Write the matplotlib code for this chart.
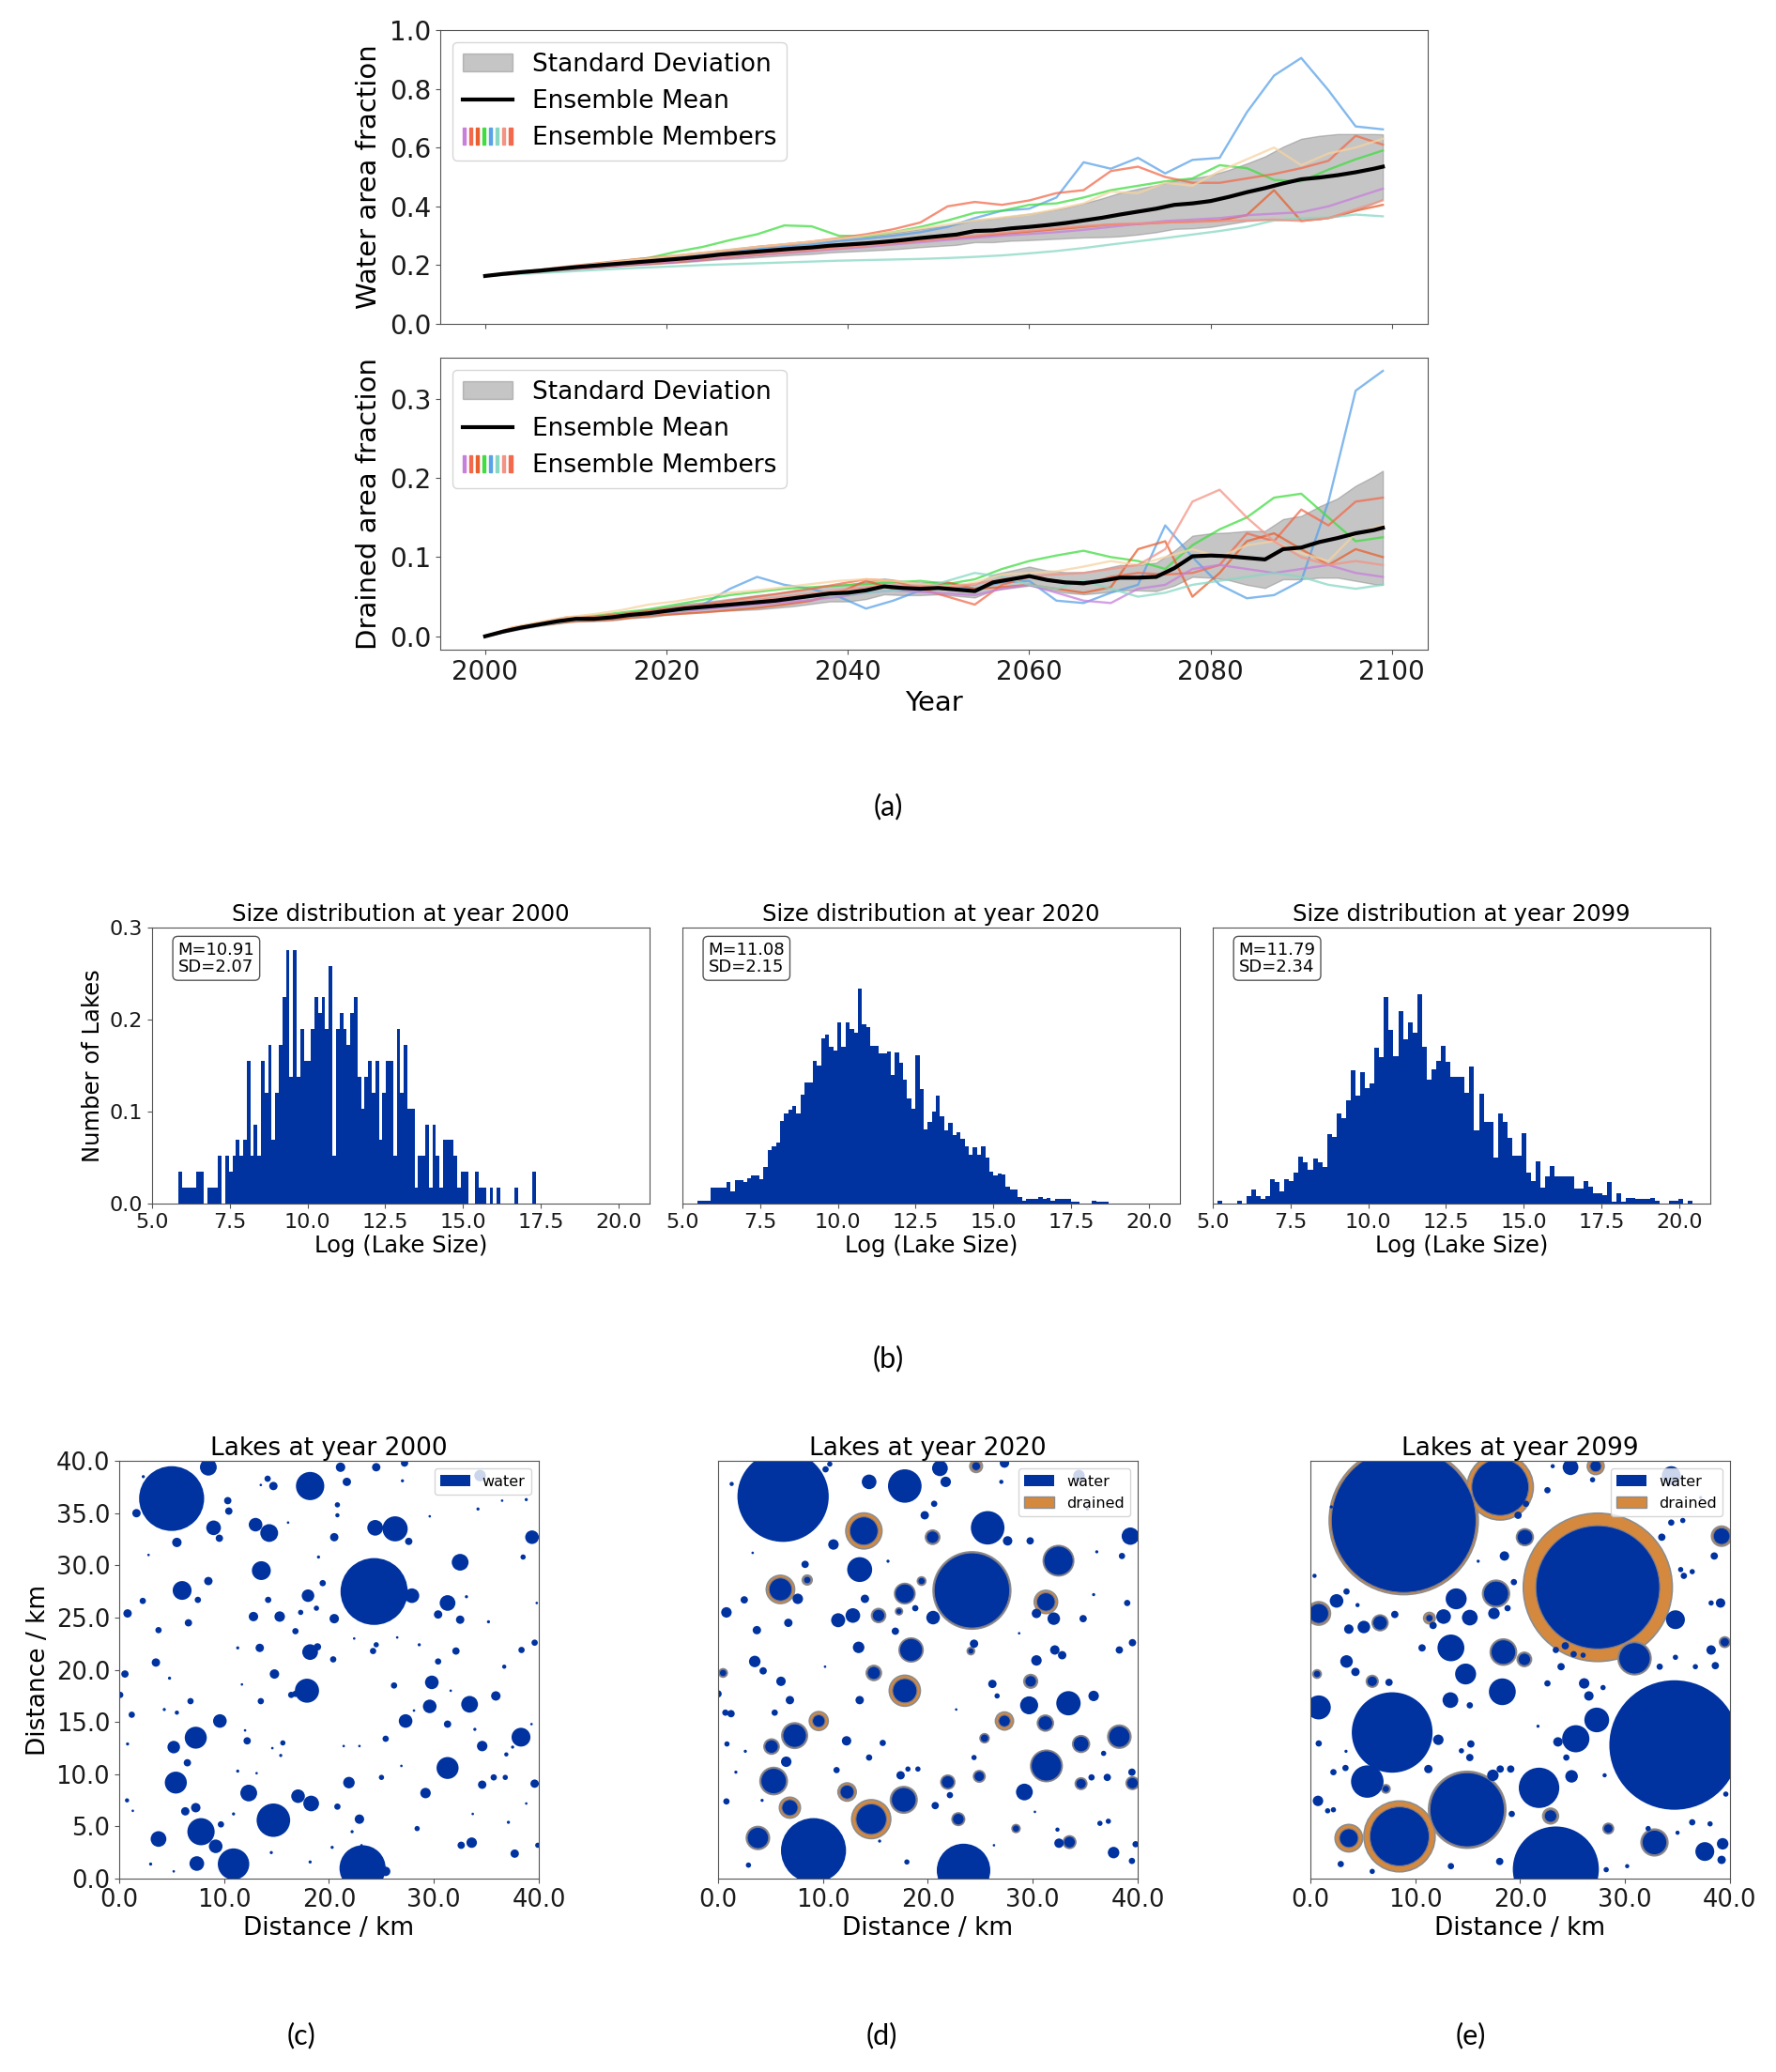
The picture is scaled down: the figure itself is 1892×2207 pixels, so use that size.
import numpy as np
import matplotlib
matplotlib.use("Agg")
import matplotlib.pyplot as plt
from matplotlib.patches import Circle, Patch, Rectangle
from matplotlib.legend_handler import HandlerTuple

BLUE = '#0033a0'
ORANGE = '#d4893f'
EDGE = '#555555'

plt.rcParams['axes.edgecolor'] = EDGE
plt.rcParams['xtick.color'] = EDGE
plt.rcParams['ytick.color'] = EDGE
plt.rcParams['xtick.labelcolor'] = '#1a1a1a'
plt.rcParams['ytick.labelcolor'] = '#1a1a1a'

# ---------------- panel (a) data ----------------
years2 = list(range(2000, 2099, 2)) + [2099]      # mean / std resolution
years3 = list(range(2000, 2100, 3))                # ensemble member resolution

water_mean = [.163, .170, .176, .181, .187, .193, .198, .203, .208, .213,
              .218, .223, .229, .236, .241, .246, .251, .256, .260, .266,
              .270, .274, .279, .285, .292, .298, .304, .316, .318, .325,
              .330, .336, .343, .352, .361, .372, .382, .392, .405, .410,
              .418, .432, .448, .462, .478, .492, .498, .506, .516, .528, .535]
water_sd = [.000, .002, .003, .004, .005, .006, .007, .008, .009, .011,
            .012, .013, .014, .016, .018, .019, .020, .021, .022, .023,
            .024, .025, .027, .029, .031, .033, .035, .038, .040, .042,
            .045, .048, .052, .058, .066, .074, .078, .080, .082, .085,
            .088, .092, .098, .108, .125, .138, .142, .140, .130, .118, .110]

water_members = [
    [.163, .172, .180, .189, .197, .205, .214, .224, .234, .244, .254, .262, .270, .282, .290, .300, .312,
     .330, .360, .385, .392, .430, .550, .528, .565, .512, .558, .565, .720, .845, .905, .795, .672, .662],
    [.163, .172, .182, .192, .203, .213, .224, .245, .262, .285, .305, .335, .332, .300, .298, .312, .330,
     .352, .378, .385, .405, .410, .430, .455, .470, .485, .495, .540, .530, .490, .485, .525, .560, .590],
    [.163, .174, .184, .195, .205, .215, .224, .232, .242, .250, .262, .270, .280, .292, .305, .322, .345,
     .400, .415, .405, .420, .445, .455, .520, .535, .500, .480, .480, .495, .510, .530, .555, .640, .610],
    [.163, .170, .177, .184, .191, .198, .204, .210, .218, .226, .234, .242, .250, .258, .266, .274, .282,
     .290, .298, .306, .314, .322, .330, .338, .340, .345, .348, .352, .370, .455, .350, .360, .385, .405],
    [.163, .171, .178, .185, .192, .199, .206, .212, .219, .226, .234, .241, .248, .255, .262, .270, .278,
     .286, .293, .300, .306, .312, .320, .330, .340, .350, .355, .360, .370, .375, .380, .400, .430, .460],
    [.163, .168, .173, .178, .183, .188, .192, .196, .200, .203, .206, .209, .212, .215, .217, .219, .221,
     .224, .228, .233, .240, .248, .258, .270, .281, .292, .304, .316, .330, .352, .360, .362, .372, .366],
    [.163, .173, .183, .193, .203, .213, .222, .232, .242, .252, .262, .271, .280, .290, .300, .312, .325,
     .338, .352, .362, .372, .390, .410, .450, .445, .480, .470, .520, .560, .600, .540, .580, .600, .630],
    [.163, .171, .179, .187, .195, .202, .209, .216, .223, .230, .237, .244, .251, .258, .266, .274, .283,
     .292, .301, .310, .318, .326, .333, .338, .342, .345, .347, .350, .352, .355, .350, .360, .390, .420],
]

drained_mean = [0, .006, .011, .015, .019, .022, .022, .024, .027, .029,
                .032, .035, .037, .039, .041, .043, .045, .048, .051, .054,
                .055, .058, .063, .061, .060, .061, .059, .057, .068, .072,
                .076, .071, .068, .067, .070, .074, .074, .075, .086, .101,
                .102, .101, .099, .097, .110, .112, .119, .124, .130, .134, .137]
drained_sd = [0, .001, .002, .002, .003, .003, .003, .004, .004, .005,
              .005, .006, .006, .007, .008, .009, .009, .010, .010, .010,
              .011, .011, .010, .009, .008, .008, .008, .008, .010, .011,
              .012, .012, .013, .014, .015, .016, .016, .018, .022, .026,
              .028, .030, .034, .036, .038, .040, .045, .050, .060, .068, .072]

drained_members = [
    [0, .008, .014, .020, .022, .026, .030, .035, .040, .060, .075, .065, .060, .050, .035, .045, .058,
     .062, .060, .068, .070, .045, .042, .055, .065, .140, .100, .065, .048, .052, .070, .170, .310, .335],
    [0, .010, .016, .022, .026, .030, .034, .040, .046, .052, .056, .060, .062, .064, .066, .068, .070,
     .066, .072, .085, .095, .102, .108, .100, .095, .085, .115, .135, .150, .175, .180, .150, .120, .125],
    [0, .011, .017, .024, .025, .028, .032, .036, .040, .045, .050, .055, .060, .066, .072, .070, .060,
     .050, .040, .065, .075, .070, .065, .075, .080, .078, .080, .090, .130, .120, .160, .140, .170, .175],
    [0, .009, .014, .018, .020, .022, .026, .028, .030, .033, .036, .040, .045, .055, .070, .060, .062,
     .068, .060, .062, .065, .060, .055, .062, .110, .120, .050, .080, .120, .130, .110, .090, .110, .100],
    [0, .010, .015, .020, .022, .025, .028, .031, .034, .037, .040, .043, .046, .050, .055, .058, .056,
     .054, .052, .060, .065, .055, .045, .042, .060, .065, .085, .090, .085, .080, .085, .090, .080, .075],
    [0, .009, .014, .019, .022, .025, .028, .032, .036, .040, .043, .046, .050, .052, .055, .058, .060,
     .070, .080, .075, .065, .060, .070, .060, .050, .055, .065, .070, .075, .080, .075, .065, .060, .065],
    [0, .011, .018, .024, .028, .033, .040, .044, .050, .055, .058, .062, .066, .070, .072, .070, .066,
     .062, .068, .078, .080, .082, .088, .095, .090, .100, .110, .100, .115, .120, .105, .095, .130, .140],
    [0, .010, .015, .020, .023, .026, .030, .034, .038, .042, .046, .050, .054, .058, .062, .064, .064,
     .062, .066, .072, .076, .078, .080, .085, .090, .110, .170, .185, .150, .120, .100, .090, .095, .090],
]

member_colors = ['#5aa2e8', '#40dd40', '#f26a4b', '#e8602e', '#c77fdc', '#87d7c3', '#f6d3a0', '#f39384']
stripe_colors = ['#c77fdc', '#f26a4b', '#e8602e', '#40dd40', '#5aa2e8', '#87d7c3', '#f39384', '#f26a4b']

# ---------------- panel (b) data ----------------
hist_unit_2000 = 0.01724
hist_2000_counts = [2, 1, 1, 1, 1, 2, 2, 0, 1, 1,
                    1, 3, 0, 3, 2, 3, 4, 3, 4, 9,
                    3, 5, 3, 9, 7, 10, 4, 7, 10, 13,
                    16, 8, 16, 8, 11, 9, 9, 11, 13, 12,
                    13, 11, 15, 3, 11, 12, 11, 10, 12, 13,
                    8, 6, 8, 9, 7, 9, 4, 7, 9, 9,
                    3, 11, 7, 10, 6, 6, 1, 3, 3, 5,
                    1, 5, 3, 1, 4, 4, 4, 3, 1, 2,
                    2, 0, 0, 2, 1, 1, 0, 1, 0, 1,
                    0, 0, 0, 0, 1, 0, 0, 0, 0, 2]
hist_2000_range = (5.86, 17.35)

hist_2020 = [.0034, .0034, .0034, .017, .017, .017, .017, .024, .013, .026,
             .026, .024, .028, .031, .031, .027, .040, .058, .062, .066,
             .090, .098, .102, .106, .098, .118, .132, .132, .155, .150,
             .180, .184, .170, .166, .197, .170, .197, .190, .186, .234,
             .195, .192, .171, .171, .163, .163, .165, .140, .164, .153,
             .135, .114, .103, .161, .125, .081, .089, .100, .117, .095,
             .080, .088, .075, .078, .070, .062, .053, .061, .053, .062,
             .050, .035, .031, .033, .032, .018, .015, .015, .007, .0034,
             .005, .005, .005, .007, .005, .006, .0034, .005, .005, .005,
             .005, .0017, .0017, 0, 0, 0, .0034, .0017, .0017, .0017]
hist_2020_range = (5.5, 18.7)

hist_2099 = [.0034, 0, 0, 0, .0034, 0, .0085, .015, .0085, .0055,
             .0085, .027, .024, .013, .027, .025, .034, .051, .045, .037,
             .049, .045, .040, .076, .072, .098, .093, .112, .145, .117,
             .143, .126, .131, .169, .159, .225, .189, .160, .209, .179,
             .197, .186, .228, .170, .135, .146, .155, .172, .154, .138,
             .138, .138, .120, .149, .080, .119, .089, .089, .050, .098,
             .089, .071, .052, .052, .077, .034, .025, .046, .017, .030,
             .041, .030, .030, .030, .030, .016, .016, .025, .018, .011,
             .011, .009, .024, .002, .011, .002, .006, .006, .005, .005,
             .005, .006, .003, 0, 0, .0034, .0034, .005, 0, .0034]
hist_2099_range = (5.16, 20.43)

hist_titles = ['Size distribution at year 2000', 'Size distribution at year 2020',
               'Size distribution at year 2099']
hist_stats = ['M=10.91\nSD=2.07', 'M=11.08\nSD=2.15', 'M=11.79\nSD=2.34']

# ---------------- panels (c)-(e) data: (x, y, water radius, drained radius) ----------------
lakes_2000 = [
    (5.0, 36.4, 3.1, 0), (24.3, 27.5, 3.2, 0), (23.2, 1.0, 2.2, 0), (10.9, 1.4, 1.5, 0), (14.7, 5.6, 1.6, 0),
    (7.8, 4.5, 1.3, 0), (17.9, 18.0, 1.15, 0), (18.2, 37.6, 1.35, 0), (26.3, 33.5, 1.2, 0), (24.4, 33.6, 0.75, 0),
    (7.3, 13.5, 1.05, 0), (5.4, 9.2, 1.05, 0), (31.3, 10.6, 1.05, 0), (32.5, 30.3, 0.8, 0), (31.3, 26.4, 0.75, 0),
    (13.55, 29.5, 0.9, 0), (6.0, 27.6, 0.9, 0), (38.3, 13.55, 0.9, 0), (33.4, 16.7, 0.8, 0), (29.8, 18.8, 0.65, 0),
    (29.6, 16.5, 0.65, 0), (27.3, 15.1, 0.65, 0), (27.9, 27.1, 0.7, 0), (18.2, 21.7, 0.75, 0), (18.0, 27.1, 0.6, 0),
    (14.3, 33.1, 0.85, 0), (13.0, 33.9, 0.65, 0), (9.0, 33.6, 0.7, 0), (8.5, 39.4, 0.8, 0), (3.75, 3.8, 0.75, 0),
    (7.4, 1.45, 0.7, 0), (9.2, 3.1, 0.65, 0), (12.35, 8.2, 0.8, 0), (17.05, 7.9, 0.65, 0), (18.3, 7.2, 0.75, 0),
    (21.9, 9.2, 0.55, 0), (22.9, 5.7, 0.45, 0), (9.6, 15.1, 0.65, 0), (5.2, 12.6, 0.6, 0), (39.35, 32.7, 0.65, 0),
    (34.6, 12.7, 0.5, 0), (29.2, 8.2, 0.5, 0), (33.6, 3.45, 0.5, 0), (32.6, 3.2, 0.35, 0), (37.7, 2.4, 0.4, 0),
    (35.9, 17.5, 0.45, 0), (27.6, 32.3, 0.35, 0), (20.5, 32.7, 0.4, 0), (20.5, 24.9, 0.45, 0), (15.3, 25.1, 0.5, 0),
    (12.8, 25.1, 0.45, 0), (14.8, 19.6, 0.45, 0), (13.4, 22.1, 0.4, 0), (25.4, 0.7, 0.45, 0), (6.3, 6.45, 0.4, 0),
    (7.3, 6.8, 0.45, 0), (39.6, 9.1, 0.4, 0), (34.6, 9.0, 0.4, 0), (30.4, 25.3, 0.4, 0), (32.5, 24.8, 0.4, 0),
    (32.1, 21.8, 0.35, 0), (19.4, 28.3, 0.3, 0), (21.1, 39.4, 0.45, 0), (21.7, 38.0, 0.4, 0), (24.5, 39.4, 0.4, 0),
    (27.2, 39.8, 0.35, 0), (1.65, 35.0, 0.4, 0), (5.5, 32.2, 0.45, 0), (10.35, 36.2, 0.35, 0), (10.45, 35.2, 0.35, 0),
    (14.7, 37.6, 0.4, 0), (9.55, 32.6, 0.35, 0), (8.5, 28.5, 0.4, 0), (3.5, 20.7, 0.4, 0), (0.55, 19.6, 0.35, 0),
    (0.8, 25.4, 0.4, 0), (6.6, 24.5, 0.35, 0), (7.5, 26.7, 0.3, 0), (6.8, 17.0, 0.3, 0), (6.5, 11.1, 0.35, 0),
    (9.7, 5.2, 0.3, 0), (12.2, 13.2, 0.35, 0), (13.5, 17.0, 0.3, 0), (16.4, 17.6, 0.3, 0), (31.3, 14.8, 0.35, 0),
    (25.4, 13.4, 0.3, 0), (26.2, 18.5, 0.3, 0), (30.4, 20.8, 0.3, 0), (24.2, 21.8, 0.3, 0), (25.0, 9.7, 0.25, 0),
    (20.8, 6.9, 0.3, 0), (28.4, 4.8, 0.25, 0), (38.35, 21.9, 0.3, 0), (39.6, 22.6, 0.3, 0), (38.5, 30.8, 0.25, 0),
    (39.9, 3.2, 0.25, 0), (36.8, 9.7, 0.25, 0), (35.7, 9.7, 0.3, 0), (36.9, 11.9, 0.2, 0), (0.75, 7.5, 0.2, 0),
    (0.1, 17.6, 0.3, 0), (1.2, 15.7, 0.3, 0), (2.25, 26.6, 0.3, 0), (3.75, 23.8, 0.3, 0), (14.15, 38.3, 0.3, 0),
    (14.2, 26.7, 0.3, 0), (20.4, 21.0, 0.3, 0), (17.3, 17.7, 0.35, 0), (16.8, 17.7, 0.3, 0), (18.9, 22.2, 0.35, 0),
    (17.3, 25.5, 0.25, 0), (16.8, 23.7, 0.3, 0), (18.8, 25.9, 0.25, 0), (24.5, 22.4, 0.25, 0), (34.4, 38.6, 0.55, 0),
    (2.8, 31.0, 0.12, 0), (4.3, 16.2, 0.15, 0), (4.8, 19.2, 0.15, 0), (5.5, 15.9, 0.2, 0), (11.3, 22.1, 0.15, 0),
    (12.0, 14.2, 0.12, 0), (15.6, 13.0, 0.25, 0), (15.4, 11.8, 0.15, 0), (14.6, 12.5, 0.12, 0), (11.3, 10.3, 0.15, 0),
    (13.1, 10.1, 0.12, 0), (20.3, 3.0, 0.15, 0), (22.2, 4.5, 0.15, 0), (23.1, 3.2, 0.12, 0), (27.0, 38.1, 0.15, 0),
    (29.6, 34.7, 0.12, 0), (33.1, 27.0, 0.15, 0), (35.2, 24.6, 0.15, 0), (36.7, 20.3, 0.2, 0), (37.5, 12.6, 0.15, 0),
    (38.8, 7.2, 0.12, 0), (37.1, 5.4, 0.15, 0), (3.0, 1.4, 0.15, 0), (0.8, 12.9, 0.15, 0), (11.7, 18.6, 0.12, 0),
    (21.4, 12.7, 0.12, 0), (26.9, 10.8, 0.12, 0), (33.7, 6.2, 0.12, 0), (31.6, 18.0, 0.12, 0), (19.0, 30.8, 0.15, 0),
    (16.1, 34.1, 0.12, 0), (13.5, 37.7, 0.12, 0), (3.5, 37.0, 0.12, 0), (2.3, 38.5, 0.15, 0), (20.8, 35.8, 0.25, 0),
    (20.8, 34.8, 0.2, 0), (22.4, 23.0, 0.12, 0), (26.5, 23.1, 0.12, 0), (28.6, 22.4, 0.15, 0), (22.9, 12.7, 0.12, 0),
    (28.1, 16.1, 0.12, 0), (33.9, 14.3, 0.15, 0), (39.3, 14.8, 0.12, 0), (39.8, 26.4, 0.12, 0), (34.2, 35.4, 0.15, 0),
    (36.5, 36.2, 0.12, 0), (38.8, 36.3, 0.15, 0), (10.9, 6.2, 0.15, 0), (14.5, 2.5, 0.15, 0), (18.2, 1.6, 0.15, 0),
    (5.2, 0.7, 0.12, 0), (1.3, 6.5, 0.12, 0),
]

lakes_2020 = [
    (6.2, 36.6, 4.35, 0), (24.2, 27.6, 3.6, 3.7), (9.1, 2.7, 3.1, 0), (23.4, 0.8, 2.55, 0), (17.8, 37.6, 1.6, 0),
    (25.7, 33.6, 1.6, 0), (31.3, 10.8, 1.45, 1.5), (32.45, 30.45, 1.4, 1.45), (13.9, 33.3, 1.35, 1.72),
    (14.6, 5.7, 1.46, 1.86), (17.8, 18.0, 1.16, 1.48), (5.95, 27.7, 1.1, 1.35), (31.25, 26.5, 0.88, 1.11),
    (9.6, 15.1, 0.6, 0.9), (27.3, 15.1, 0.56, 0.86), (12.3, 8.3, 0.67, 0.87), (6.85, 6.8, 0.77, 1.0),
    (7.3, 13.7, 1.13, 1.22), (5.3, 9.35, 1.22, 1.3), (17.7, 7.55, 1.18, 1.27), (38.25, 13.6, 1.02, 1.1),
    (3.8, 3.9, 1.02, 1.1), (13.5, 29.6, 1.19, 0), (33.4, 16.8, 1.16, 0), (18.4, 21.9, 1.1, 1.14),
    (17.8, 27.3, 0.93, 0.97), (39.3, 32.8, 0.83, 0), (29.65, 16.6, 0.86, 0), (29.2, 8.3, 0.8, 0),
    (31.2, 14.9, 0.7, 0.76), (34.6, 12.9, 0.75, 0.8), (33.5, 3.5, 0.56, 0.6), (32.5, 3.4, 0.45, 0),
    (37.7, 2.5, 0.55, 0), (39.5, 9.15, 0.55, 0.6), (21.9, 9.25, 0.62, 0.66), (22.9, 5.7, 0.56, 0.6),
    (24.9, 9.8, 0.5, 0.55), (25.4, 13.45, 0.4, 0.43), (29.8, 18.9, 0.55, 0.65), (32.0, 24.9, 0.6, 0),
    (30.35, 25.4, 0.45, 0), (20.5, 25.0, 0.65, 0), (20.45, 32.7, 0.6, 0.68), (21.15, 39.3, 0.75, 0),
    (21.7, 38.0, 0.5, 0), (24.6, 39.5, 0.42, 0.6), (27.3, 39.8, 0.45, 0), (14.4, 38.0, 0.7, 0),
    (11.45, 24.75, 0.67, 0), (12.85, 25.2, 0.7, 0), (15.3, 25.2, 0.6, 0.67), (14.85, 19.7, 0.63, 0.72),
    (13.4, 22.15, 0.55, 0), (11.0, 32.0, 0.5, 0), (3.5, 20.8, 0.55, 0), (5.1, 12.65, 0.65, 0.72),
    (6.5, 11.2, 0.5, 0), (0.8, 25.5, 0.5, 0), (7.6, 26.8, 0.5, 0), (8.5, 28.6, 0.35, 0.47), (8.3, 30.1, 0.35, 0),
    (3.7, 23.8, 0.4, 0), (6.7, 24.5, 0.4, 0), (2.5, 26.7, 0.35, 0), (6.0, 18.9, 0.45, 0), (6.85, 17.1, 0.4, 0),
    (13.5, 17.1, 0.4, 0), (12.25, 13.2, 0.45, 0), (14.0, 26.8, 0.4, 0), (16.9, 23.7, 0.35, 0),
    (27.6, 32.35, 0.45, 0), (29.75, 32.35, 0.35, 0), (26.15, 18.65, 0.4, 0), (26.6, 17.5, 0.25, 0),
    (32.8, 21.4, 0.4, 0), (32.1, 21.9, 0.45, 0), (30.35, 20.9, 0.5, 0), (35.8, 17.5, 0.5, 0), (34.8, 24.9, 0.35, 0),
    (38.25, 21.9, 0.35, 0), (39.5, 22.6, 0.35, 0), (39.0, 26.4, 0.3, 0), (38.5, 30.9, 0.3, 0),
    (39.45, 10.2, 0.35, 0), (37.1, 9.7, 0.35, 0), (35.6, 9.7, 0.3, 0), (34.6, 9.1, 0.5, 0.55),
    (39.45, 1.7, 0.3, 0), (39.8, 3.3, 0.3, 0), (28.4, 4.8, 0.35, 0.38), (0.8, 7.4, 0.3, 0), (0.85, 12.9, 0.25, 0),
    (0.7, 15.9, 0.3, 0), (1.24, 15.8, 0.35, 0), (0.48, 19.7, 0.35, 0.4), (0.0, 17.7, 0.35, 0), (5.4, 15.9, 0.3, 0),
    (4.3, 19.9, 0.35, 0), (20.7, 7.0, 0.35, 0), (22.1, 8.0, 0.3, 0), (14.4, 11.6, 0.3, 0), (15.7, 13.0, 0.3, 0),
    (11.3, 10.4, 0.3, 0), (17.4, 9.9, 0.4, 0), (18.1, 10.5, 0.25, 0), (19.05, 10.5, 0.25, 0), (24.4, 11.6, 0.25, 0),
    (24.4, 22.5, 0.4, 0), (24.1, 21.8, 0.3, 0.35), (17.25, 25.6, 0.3, 0.33), (18.8, 25.9, 0.3, 0),
    (19.4, 28.5, 0.35, 0.4), (19.7, 34.8, 0.4, 0), (20.6, 35.9, 0.3, 0), (18.0, 1.6, 0.25, 0), (2.9, 1.3, 0.25, 0),
    (37.2, 5.5, 0.25, 0), (36.75, 12.0, 0.25, 0), (36.4, 5.3, 0.25, 0), (32.35, 4.7, 0.2, 0),
    (34.4, 38.6, 0.55, 0), (10.25, 39.2, 0.3, 0), (10.65, 39.7, 0.25, 0), (1.3, 37.8, 0.2, 0), (27.0, 38.0, 0.2, 0),
    (2.6, 12.2, 0.15, 0), (1.7, 10.2, 0.15, 0), (4.2, 7.5, 0.15, 0), (15.4, 3.6, 0.15, 0), (26.3, 3.2, 0.12, 0),
    (30.2, 6.4, 0.12, 0), (35.8, 27.2, 0.15, 0), (36.1, 31.3, 0.15, 0), (16.2, 30.4, 0.15, 0), (22.7, 16.2, 0.12, 0),
    (10.2, 20.3, 0.12, 0), (3.3, 31.2, 0.12, 0), (28.7, 23.5, 0.12, 0), (35.2, 35.4, 0.15, 0),
]

lakes_2099 = [
    (8.9, 34.3, 6.9, 7.1), (27.4, 27.9, 5.9, 7.1), (34.7, 12.8, 6.2, 0), (7.8, 14.0, 3.85, 0),
    (14.95, 6.6, 3.55, 3.68), (23.4, 0.9, 4.1, 0), (8.5, 4.05, 2.83, 3.39), (18.1, 37.5, 2.72, 3.15),
    (3.67, 3.88, 0.9, 1.31), (5.43, 9.3, 1.55, 0), (21.8, 8.7, 1.93, 0), (30.9, 21.1, 1.5, 1.57),
    (27.3, 15.2, 1.18, 0), (0.8, 16.4, 1.15, 0), (25.3, 13.4, 1.3, 0), (18.3, 17.9, 1.28, 0), (13.4, 22.1, 1.28, 0),
    (17.7, 27.3, 1.2, 1.28), (18.4, 21.7, 1.18, 1.25), (14.8, 19.6, 1.0, 0), (13.9, 26.8, 1.0, 0),
    (0.8, 25.4, 0.95, 1.12), (39.2, 32.8, 0.8, 0.96), (32.8, 3.47, 1.18, 1.28), (37.6, 2.6, 0.9, 0),
    (34.8, 24.8, 0.9, 0), (20.45, 32.7, 0.75, 0.8), (24.8, 39.4, 0.75, 0), (27.2, 39.5, 0.55, 0.8),
    (34.4, 38.6, 0.9, 0), (22.9, 6.0, 0.6, 0.75), (24.9, 9.8, 0.6, 0), (39.3, 3.34, 0.55, 0), (26.1, 18.7, 0.5, 0),
    (26.55, 17.5, 0.45, 0), (20.4, 21.0, 0.6, 0.68), (12.7, 25.1, 0.7, 0), (15.2, 25.0, 0.75, 0),
    (17.5, 25.4, 0.55, 0), (11.35, 24.95, 0.35, 0.55), (11.7, 24.25, 0.35, 0), (10.65, 22.1, 0.35, 0),
    (6.65, 24.5, 0.7, 0.75), (5.1, 24.1, 0.6, 0), (3.67, 23.9, 0.45, 0), (2.5, 26.6, 0.65, 0), (8.05, 25.3, 0.35, 0),
    (3.45, 20.8, 0.6, 0), (4.3, 19.8, 0.4, 0), (5.9, 18.9, 0.5, 0.56), (7.5, 18.8, 0.35, 0), (0.64, 19.6, 0.35, 0.4),
    (13.35, 17.1, 0.75, 0), (15.2, 16.6, 0.3, 0), (12.2, 13.3, 0.5, 0), (15.3, 12.9, 0.35, 0), (15.2, 11.6, 0.35, 0),
    (11.25, 10.5, 0.4, 0), (17.4, 9.9, 0.55, 0), (18.1, 10.5, 0.35, 0), (19.1, 10.5, 0.35, 0), (14.4, 12.25, 0.25, 0),
    (0.73, 7.45, 0.5, 0), (0.8, 12.95, 0.3, 0), (2.2, 10.2, 0.3, 0), (3.35, 10.6, 0.3, 0), (7.2, 8.6, 0.35, 0.4),
    (28.4, 4.8, 0.45, 0.5), (30.2, 1.2, 0.2, 0), (23.6, 13.1, 0.45, 0), (24.4, 11.6, 0.3, 0), (28.05, 9.9, 0.2, 0),
    (36.4, 5.4, 0.3, 0), (38.1, 5.25, 0.25, 0), (39.2, 1.8, 0.4, 0), (39.6, 8.1, 0.25, 0), (38.6, 20.4, 0.35, 0),
    (38.2, 21.9, 0.45, 0), (39.5, 22.65, 0.45, 0.5), (39.1, 26.4, 0.45, 0), (38.2, 26.4, 0.25, 0),
    (38.5, 30.9, 0.35, 0), (35.6, 29.0, 0.3, 0), (35.3, 29.6, 0.25, 0), (36.4, 29.4, 0.25, 0), (34.8, 21.2, 0.25, 0),
    (33.3, 20.3, 0.3, 0), (36.7, 20.3, 0.25, 0), (33.5, 32.7, 0.35, 0), (34.4, 34.1, 0.3, 0), (35.5, 34.3, 0.25, 0),
    (23.9, 20.3, 0.35, 0), (23.4, 21.9, 0.3, 0), (24.3, 22.3, 0.35, 0), (25.1, 21.5, 0.3, 0), (26.0, 21.4, 0.25, 0),
    (22.6, 18.7, 0.3, 0), (27.9, 18.3, 0.25, 0), (18.5, 30.9, 0.45, 0), (19.4, 28.4, 0.3, 0), (18.8, 25.9, 0.3, 0),
    (20.55, 35.9, 0.3, 0), (19.8, 34.8, 0.35, 0), (22.6, 37.2, 0.3, 0), (23.1, 39.5, 0.2, 0), (26.9, 38.2, 0.25, 0),
    (3.45, 27.5, 0.3, 0), (4.5, 26.2, 0.2, 0), (0.4, 29.0, 0.2, 0), (18.05, 1.65, 0.35, 0), (13.4, 1.2, 0.3, 0),
    (5.9, 0.7, 0.25, 0), (2.9, 1.4, 0.3, 0), (1.65, 6.5, 0.25, 0), (2.2, 6.6, 0.25, 0), (19.2, 6.2, 0.3, 0),
    (28.2, 0.86, 0.25, 0), (32.2, 4.8, 0.25, 0), (35.0, 4.4, 0.2, 0), (3.4, 12.2, 0.15, 0), (2.0, 35.6, 0.15, 0),
    (16.0, 30.4, 0.15, 0), (21.7, 14.6, 0.15, 0), (30.6, 10.2, 0.15, 0), (37.2, 36.5, 0.15, 0),
]

map_titles = ['Lakes at year 2000', 'Lakes at year 2020', 'Lakes at year 2099']


def ensemble_panel(ax, members, mean, sd, ylabel):
    for vals, col in zip(members, member_colors):
        ax.plot(years3, vals, color=col, lw=1.7, alpha=0.75)
    m = np.array(mean)
    s = np.array(sd)
    band = ax.fill_between(years2, m - s, m + s, color='grey', alpha=0.45, lw=1)
    line, = ax.plot(years2, m, color='black', lw=3)
    stripes = tuple(Rectangle((0, 0), 1, 1, color=c) for c in stripe_colors)
    ax.legend([band, line, stripes], ['Standard Deviation', 'Ensemble Mean', 'Ensemble Members'],
              handler_map={tuple: HandlerTuple(ndivide=None, pad=0.15)},
              loc='upper left', fontsize=19, labelspacing=0.5, borderpad=0.4)
    ax.set_ylabel(ylabel, fontsize=21, labelpad=6)
    ax.tick_params(labelsize=20)


def hist_panel(ax, heights, rng, title, stats, first):
    edges = np.linspace(rng[0], rng[1], len(heights) + 1)
    ax.stairs(heights, edges, fill=True, color=BLUE)
    ax.set_xlim(5, 21)
    ax.set_ylim(0, 0.3)
    ax.set_xticks([5, 7.5, 10, 12.5, 15, 17.5, 20])
    ax.set_xticklabels(['5.0', '7.5', '10.0', '12.5', '15.0', '17.5', '20.0'])
    if first:
        ax.set_yticks([0, 0.1, 0.2, 0.3])
        ax.set_yticklabels(['0.0', '0.1', '0.2', '0.3'])
        ax.set_ylabel('Number of Lakes', fontsize=17.5)
    else:
        ax.set_yticks([])
    ax.tick_params(labelsize=16)
    ax.set_title(title, fontsize=17.5, pad=5)
    ax.set_xlabel('Log (Lake Size)', fontsize=17.5, labelpad=2)
    ax.text(0.052, 0.95, stats, transform=ax.transAxes, ha='left', va='top', fontsize=13,
            linespacing=1.0, bbox=dict(boxstyle='round,pad=0.3', fc='white', ec='#555555'))


def map_panel(ax, lakes, title, first, show_drained):
    for x, y, rw, rd in lakes:
        if rd > 0:
            ax.add_patch(Circle((x, y), rd, fc=ORANGE, ec='#8c8c8c', lw=1.2))
    for x, y, rw, rd in lakes:
        ec = '#7a7a8c' if rd > 0 else 'none'
        ax.add_patch(Circle((x, y), rw, fc=BLUE, ec=ec, lw=0.8))
    ax.set_xlim(0, 40)
    ax.set_ylim(0, 40)
    ax.set_xticks([0, 10, 20, 30, 40])
    ax.set_xticklabels(['0.0', '10.0', '20.0', '30.0', '40.0'])
    if first:
        yt = [0, 5, 10, 15, 20, 25, 30, 35, 40]
        ax.set_yticks(yt)
        ax.set_yticklabels(['%.1f' % v for v in yt])
        ax.set_ylabel('Distance / km', fontsize=19)
    else:
        ax.set_yticks([])
    ax.tick_params(labelsize=18.5)
    ax.set_title(title, fontsize=19, pad=4)
    ax.set_xlabel('Distance / km', fontsize=19, labelpad=3)
    handles = [Patch(fc=BLUE, label='water')]
    if show_drained:
        handles.append(Patch(fc=ORANGE, ec='#8c8c8c', label='drained'))
    ax.legend(handles=handles, loc='upper right', fontsize=11.5)


fig = plt.figure(figsize=(18.92, 22.07), dpi=100)

ax_w = fig.add_axes([0.2479, 0.8437, 0.5560, 0.1418])
ax_d = fig.add_axes([0.2479, 0.6865, 0.5560, 0.1409], sharex=ax_w)
ensemble_panel(ax_w, water_members, water_mean, water_sd, 'Water area fraction')
ensemble_panel(ax_d, drained_members, drained_mean, drained_sd, 'Drained area fraction')
ax_w.set_ylim(0, 1.0)
ax_w.tick_params(labelbottom=False)
ax_d.set_xticks([2000, 2020, 2040, 2060, 2080, 2100])
ax_d.set_xlabel('Year', fontsize=21)

hist_x = [0.0856, 0.3842, 0.6829]
hist_data = [np.array(hist_2000_counts) * hist_unit_2000, hist_2020, hist_2099]
hist_ranges = [hist_2000_range, hist_2020_range, hist_2099_range]
for i in range(3):
    ax = fig.add_axes([hist_x[i], 0.4191, 0.2801, 0.1332])
    hist_panel(ax, hist_data[i], hist_ranges[i], hist_titles[i], hist_stats[i], i == 0)

map_x = [0.0671, 0.4043, 0.7378]
all_lakes = [lakes_2000, lakes_2020, lakes_2099]
for i in range(3):
    ax = fig.add_axes([map_x[i], 0.0933, 0.2363, 0.2016])
    map_panel(ax, all_lakes[i], map_titles[i], i == 0, i > 0)

for lab, x, y in [('(a)', 0.5, 0.6108), ('(b)', 0.5, 0.3444), ('(c)', 0.1697, 0.0177),
                  ('(d)', 0.4963, 0.0177), ('(e)', 0.8282, 0.0177)]:
    fig.text(x, y, lab, ha='center', va='center', fontsize=22, family=['Lato', 'DejaVu Sans'])

fig.savefig('out.png', dpi=100)
